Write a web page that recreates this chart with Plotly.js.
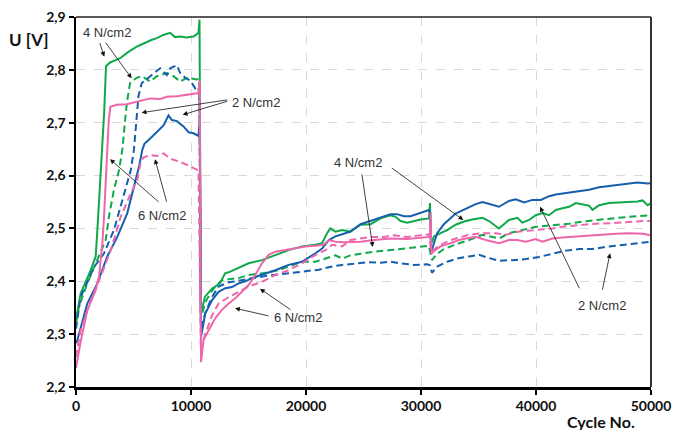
<!DOCTYPE html>
<html>
<head>
<meta charset="utf-8">
<script src="https://cdn.plot.ly/plotly-3.0.1.min.js"></script>
<style>html,body{margin:0;padding:0;background:#fff;}#chart{width:678px;height:430px;}</style>
</head>
<body>
<div id="chart"></div>
<script>
// Green solid (4 N/cm2)
const greenSolidX = [0,400,1280,1710,1860,2000,2150,2290,2450,2610,2960,3400,3830,4500,5280,5700,6150,6600,7030,7600,8190,8600,9060,9600,10220,10650,10740,
  10860,11220,11820,12520,12960,13270,14140,15010,16170,17330,18490,19650,20820,21400,21830,22120,22560,23140,23860,24740,25610,26480,27350,27790,28220,28800,29380,29960,30690,30780,30860,31120,31700,32280,33010,33880,34460,35340,35920,36780,37650,38380,38820,39400,39980,40560,41140,41720,42300,42880,43460,44040,44620,44910,45490,46360,47230,48100,48820,49270,49710,50000];
const greenSolidY = [2.327,2.377,2.421,2.447,2.497,2.554,2.61,2.649,2.72,2.807,2.814,2.818,2.822,2.833,2.844,2.848,2.853,2.857,2.86,2.866,2.87,2.862,2.863,2.861,2.863,2.87,2.895,
  2.339,2.371,2.386,2.396,2.415,2.417,2.425,2.434,2.44,2.45,2.459,2.466,2.469,2.472,2.491,2.5,2.494,2.497,2.494,2.507,2.508,2.519,2.525,2.522,2.514,2.511,2.514,2.517,2.519,2.548,2.47,2.485,2.491,2.497,2.507,2.514,2.517,2.52,2.514,2.5,2.516,2.52,2.511,2.516,2.525,2.529,2.525,2.535,2.538,2.541,2.548,2.545,2.543,2.535,2.544,2.548,2.549,2.551,2.551,2.553,2.544,2.548];

// Green dashed (4 N/cm2)
const greenDashX = [0,260,980,1860,2580,2870,3300,3740,4030,4250,4420,4700,5280,5720,6450,7030,7900,8480,9060,9640,10490,10700,
  10860,11240,11700,12110,12690,13270,14140,15010,16170,17620,18780,19650,20820,21690,22560,23140,23860,24740,25900,27350,28800,29960,30690,30950,31410,31990,32860,33450,34170,35340,36780,37650,38820,39980,41430,42880,44040,45200,46650,48100,49270,50000];
const greenDashY = [2.32,2.352,2.396,2.44,2.478,2.523,2.573,2.61,2.649,2.7,2.737,2.775,2.785,2.788,2.778,2.788,2.794,2.788,2.778,2.785,2.782,2.783,
  2.33,2.36,2.378,2.39,2.402,2.404,2.406,2.412,2.415,2.421,2.431,2.437,2.437,2.443,2.449,2.443,2.449,2.452,2.456,2.459,2.463,2.466,2.467,2.44,2.452,2.461,2.469,2.473,2.478,2.488,2.481,2.491,2.497,2.503,2.506,2.509,2.513,2.516,2.519,2.522,2.523,2.525];

// Blue solid (2 N/cm2)
const blueSolidX = [0,110,980,1860,2720,3590,4460,5040,5480,5770,5950,6450,7030,7610,8040,8340,8770,9350,9790,10220,10650,10760,
  10870,11240,11820,12400,12980,13560,14140,14720,15300,16170,17330,18490,19650,20820,21400,21980,22560,23280,23860,24740,25610,26480,27350,27930,28510,29090,29960,30690,30800,30880,31120,31410,31990,32570,33010,33880,34750,35340,35920,36780,37650,38240,38960,39690,40420,41140,41720,42590,43460,44620,45490,46360,47230,48100,48820,49270,49710,50000];
const blueSolidY = [2.283,2.288,2.358,2.396,2.447,2.484,2.529,2.579,2.617,2.649,2.66,2.67,2.682,2.695,2.714,2.705,2.703,2.693,2.682,2.68,2.675,2.7,
  2.295,2.339,2.364,2.38,2.387,2.389,2.396,2.4,2.406,2.412,2.421,2.431,2.437,2.453,2.462,2.478,2.485,2.49,2.494,2.508,2.514,2.521,2.527,2.527,2.523,2.523,2.53,2.535,2.53,2.453,2.472,2.491,2.508,2.519,2.528,2.537,2.546,2.55,2.546,2.541,2.552,2.555,2.549,2.554,2.554,2.561,2.564,2.567,2.57,2.573,2.578,2.58,2.583,2.585,2.587,2.586,2.585,2.586];

// Blue dashed (2 N/cm2)
const blueDashX = [0,400,1570,2440,3300,4030,4760,5040,5250,5430,5720,6300,7030,7320,7900,8190,8770,9060,9500,9930,10370,10650,10750,
  10860,11240,11820,12400,13270,14140,15300,16460,17620,18780,19940,21110,22270,23140,24160,25320,26480,27350,28220,29380,30540,30800,30950,31410,32280,33150,34170,35050,35920,36780,37940,39110,40270,41430,42590,43750,44910,46070,47230,48390,49560,50000];
const blueDashY = [2.31,2.37,2.427,2.453,2.497,2.554,2.61,2.649,2.7,2.75,2.775,2.785,2.797,2.803,2.79,2.803,2.809,2.794,2.785,2.78,2.765,2.768,2.74,
  2.31,2.34,2.37,2.39,2.398,2.401,2.406,2.41,2.413,2.416,2.419,2.422,2.428,2.431,2.433,2.436,2.435,2.437,2.434,2.431,2.432,2.43,2.416,2.428,2.437,2.443,2.447,2.45,2.444,2.439,2.44,2.442,2.446,2.452,2.458,2.461,2.461,2.465,2.468,2.471,2.473,2.475];

// Pink solid (6 N/cm2)
const pinkSolidX = [0,350,980,1710,2000,2290,2440,2580,2720,2850,2990,3540,4420,5280,5720,6450,7320,7900,8770,9640,10650,10760,
  10870,11100,11530,12110,12690,13270,13850,14430,15010,15590,16170,16750,17330,18200,19070,19940,20820,21540,21980,22560,23280,24740,25900,27350,28800,29960,30770,30830,30900,31060,31700,32570,33300,33880,34750,35630,36780,37650,38380,39110,39980,40560,41430,42300,43460,44620,45780,46940,48100,49270,50000];
const pinkSolidY = [2.236,2.28,2.345,2.383,2.409,2.472,2.523,2.586,2.649,2.706,2.73,2.734,2.735,2.74,2.742,2.746,2.745,2.749,2.75,2.753,2.756,2.78,
  2.247,2.29,2.308,2.33,2.346,2.358,2.368,2.38,2.393,2.412,2.434,2.45,2.456,2.459,2.463,2.466,2.467,2.469,2.478,2.475,2.474,2.475,2.478,2.481,2.48,2.482,2.484,2.53,2.452,2.456,2.466,2.472,2.478,2.481,2.484,2.478,2.472,2.478,2.478,2.475,2.48,2.475,2.481,2.483,2.485,2.486,2.488,2.49,2.491,2.49,2.487];

// Pink dashed (6 N/cm2)
const pinkDashX = [0,400,1280,2150,3020,3890,4760,5330,5620,5860,6450,7030,7610,8190,9060,9930,10650,
  10860,11240,11820,12400,13270,14140,15010,16170,17330,18490,19650,20820,21690,22270,23140,23860,25610,26770,27650,28800,29960,30690,30900,31700,32570,33450,34170,35340,36500,37360,38530,39980,41430,42590,43750,45200,46650,48100,49270,50000];
const pinkDashY = [2.257,2.307,2.364,2.409,2.459,2.522,2.566,2.592,2.625,2.634,2.639,2.637,2.642,2.632,2.626,2.617,2.61,
  2.27,2.3,2.335,2.358,2.37,2.38,2.39,2.399,2.412,2.421,2.434,2.45,2.459,2.469,2.466,2.478,2.484,2.484,2.487,2.484,2.487,2.489,2.456,2.469,2.478,2.484,2.488,2.491,2.491,2.488,2.494,2.497,2.5,2.504,2.506,2.509,2.51,2.513,2.514,2.514];

const xTickVals = [0,10000,20000,30000,40000,50000];
const xTickText = ['0','10000','20000','30000','40000','50000'];

const GREEN = '#0fa84a', BLUE = '#155fae', PINK = '#ee66ab';
const DASH = '7px,4px';

function tr(x, y, color, dash) {
  return {x: x, y: y, type: 'scatter', mode: 'lines', hoverinfo: 'skip',
    line: {color: color, width: 2, dash: dash || 'solid'}};
}
const data = [
  tr(greenSolidX, greenSolidY, GREEN),
  tr(greenDashX, greenDashY, GREEN, DASH),
  tr(blueSolidX, blueSolidY, BLUE),
  tr(blueDashX, blueDashY, BLUE, DASH),
  tr(pinkDashX, pinkDashY, PINK, DASH),
  tr(pinkSolidX, pinkSolidY, PINK)
];

const TXT = {family: 'Liberation Sans, Arial, sans-serif', size: 13, color: '#333'};
function label(text, x, y) {
  return {text: text, x: x, y: y, xref: 'x', yref: 'y', showarrow: false, font: TXT};
}
function arrow(x, y, ax, ay) {
  return {text: '', x: x, y: y, xref: 'x', yref: 'y', ax: ax, ay: ay, showarrow: true,
    arrowhead: 2, arrowsize: 1.2, arrowwidth: 0.8, arrowcolor: '#111', standoff: 0, startstandoff: 0};
}
const annotations = [
  label('4 N/cm2', 2670, 2.870),
  arrow(2460, 2.825, -5, -15),
  arrow(4840, 2.784, -27, -37),
  label('2 N/cm2', 15650, 2.739),
  arrow(5710, 2.719, 87, -13),
  arrow(9280, 2.715, 46, -14),
  label('6 N/cm2', 7450, 2.525),
  arrow(6870, 2.631, 12, 44),
  arrow(2960, 2.631, 50, 44),
  label('6 N/cm2', 19300, 2.332),
  arrow(13830, 2.349, 35, 8),
  arrow(16000, 2.386, 32, 22),
  label('4 N/cm2', 24520, 2.624),
  arrow(25800, 2.465, -11, -74),
  arrow(33680, 2.516, -73, -53),
  label('2 N/cm2', 45740, 2.355),
  arrow(40350, 2.541, 40, 83),
  arrow(46440, 2.453, -8, 38),
  {text: '<b>U [V]</b>', xref: 'paper', yref: 'paper', x: -0.082, y: 0.938, xanchor: 'center', yanchor: 'middle',
   showarrow: false, font: {family: 'Lato, sans-serif', size: 17, color: '#111'}},
  {text: '<b>Cycle No.</b>', xref: 'paper', yref: 'paper', x: 0.913, y: -0.093, xanchor: 'center', yanchor: 'middle',
   showarrow: false, font: {family: 'Lato, sans-serif', size: 16, color: '#111'}}
];

const layout = {
  width: 678, height: 430,
  margin: {l: 76, r: 27, t: 17, b: 43},
  paper_bgcolor: '#fff', plot_bgcolor: '#fff',
  showlegend: false,
  separators: ',.',
  xaxis: {
    range: [0, 50000], tickvals: xTickVals, ticktext: xTickText,
    showgrid: true, gridcolor: '#d9d9d9', gridwidth: 1, griddash: 'dash',
    showline: true, linecolor: '#000', linewidth: 2.5, zeroline: false,
    ticks: 'outside', ticklen: 5, tickwidth: 2, tickcolor: '#000',
    tickfont: {family: 'Lato, sans-serif', size: 14, color: '#111', weight: 'bold'}
  },
  yaxis: {
    range: [2.2, 2.9], dtick: 0.1, tick0: 2.2, tickformat: '.1f',
    showgrid: true, gridcolor: '#d9d9d9', gridwidth: 1, griddash: 'dash',
    showline: true, linecolor: '#000', linewidth: 2.5, zeroline: false,
    ticks: 'outside', ticklen: 5, tickwidth: 2, tickcolor: '#000',
    tickfont: {family: 'Lato, sans-serif', size: 14, color: '#111', weight: 'bold'}
  },
  shapes: [
    {type: 'line', xref: 'paper', yref: 'paper', x0: 0, x1: 1, y0: 1, y1: 1, line: {color: '#222', width: 1.5}},
    {type: 'line', xref: 'paper', yref: 'paper', x0: 1, x1: 1, y0: 0, y1: 1, line: {color: '#333', width: 2}}
  ],
  annotations: annotations
};

Plotly.newPlot('chart', data, layout, {displayModeBar: false, staticPlot: true});
</script>
</body>
</html>
